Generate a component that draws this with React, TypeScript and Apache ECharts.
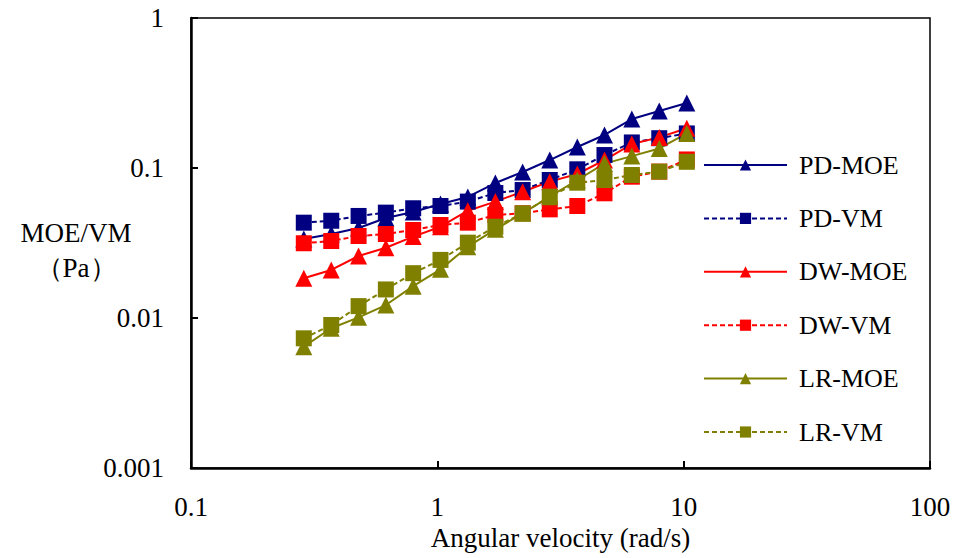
import React, { useEffect, useRef } from "react";
import * as echarts from "echarts";

// Angular velocity (rad/s)
const omega = [0.287, 0.371, 0.479, 0.618, 0.798, 1.03, 1.33, 1.72, 2.22, 2.86, 3.70, 4.77, 6.16, 7.96, 10.3];

const pdMOE = [0.0336, 0.0363, 0.0398, 0.0464, 0.0509, 0.0575, 0.0641, 0.0794, 0.094, 0.113, 0.138, 0.166, 0.212, 0.240, 0.271];
const pdVM = [0.0432, 0.0445, 0.0479, 0.0504, 0.0539, 0.0558, 0.0597, 0.0681, 0.0713, 0.0832, 0.098, 0.122, 0.148, 0.158, 0.170];
const dwMOE = [0.0184, 0.0209, 0.0259, 0.0294, 0.0349, 0.0406, 0.0519, 0.0597, 0.0695, 0.0811, 0.0912, 0.113, 0.1445, 0.160, 0.184];
const dwVM = [0.0315, 0.0326, 0.0352, 0.0363, 0.0386, 0.0417, 0.0432, 0.0486, 0.0499, 0.053, 0.0558, 0.0678, 0.0875, 0.0946, 0.114];
const lrMOE = [0.00644, 0.00854, 0.0101, 0.0122, 0.0163, 0.0211, 0.0299, 0.039, 0.0499, 0.0644, 0.0832, 0.107, 0.120, 0.135, 0.170];
const lrVM = [0.00732, 0.00898, 0.0120, 0.0155, 0.0199, 0.0244, 0.0318, 0.0406, 0.0499, 0.0644, 0.0798, 0.0832, 0.0898, 0.0946, 0.110];

const seriesNames = ["PD-MOE", "PD-VM", "DW-MOE", "DW-VM", "LR-MOE", "LR-VM"];
const xTickLabels = ["0.1", "1", "10", "100"];
const yTickLabels = ["0.001", "0.01", "0.1", "1"];

const FONT = "Liberation Serif";

function pickLabel(labels: string[], v: number) {
  for (const l of labels) {
    if (Math.abs(Math.log10(Number(l)) - Math.log10(v)) < 1e-6) return l;
  }
  return "";
}

export default function App() {
  const ref = useRef<HTMLDivElement>(null);
  useEffect(() => {
    if (!ref.current) return;
    const chart = echarts.init(ref.current, undefined, { renderer: "svg" });
    const navy = "#000080";
    const red = "#FF0000";
    const olive = "#808000";
    const mk = (name: string, ys: number[], color: string, dashed: boolean, symbol: string) => ({
      name,
      type: "line",
      data: omega.map((x, i) => [x, ys[i]]),
      symbol,
      symbolSize: symbol === "triangle" ? 17 : 16,
      showSymbol: true,
      lineStyle: { color, width: 2, type: dashed ? [5, 3] : "solid" },
      itemStyle: { color },
      emphasis: { disabled: true },
    });
    chart.setOption({
      animation: false,
      backgroundColor: "#fff",
      textStyle: { fontFamily: FONT },
      grid: {
        left: 191,
        right: 31,
        top: 18,
        bottom: 90,
        show: true,
        borderColor: "#000",
        borderWidth: 1.5,
        backgroundColor: "transparent",
      },
      legend: {
        orient: "vertical",
        left: 698,
        top: 147,
        itemWidth: 83,
        itemHeight: 14,
        itemGap: 27.4,
        data: seriesNames,
        textStyle: {
          fontFamily: FONT,
          fontSize: 26,
          lineHeight: 26,
          color: "#000",
          padding: [0, 0, 0, 7],
        },
      },
      xAxis: {
        type: "log",
        logBase: 10,
        min: 0.1,
        max: 100,
        name: "Angular velocity (rad/s)",
        nameLocation: "middle",
        nameGap: 53,
        nameTextStyle: { fontFamily: FONT, fontSize: 27, color: "#000" },
        axisLine: { lineStyle: { color: "#000", width: 2.5 } },
        axisTick: { inside: true, length: 7, lineStyle: { color: "#000", width: 2 } },
        minorTick: { show: false },
        splitLine: { show: false },
        axisLabel: {
          margin: 25,
          fontFamily: FONT,
          fontSize: 27,
          color: "#000",
          formatter: (v: number) => pickLabel(xTickLabels, v),
        },
      },
      yAxis: {
        type: "log",
        logBase: 10,
        min: 0.001,
        max: 1,
        axisLine: { lineStyle: { color: "#000", width: 2.5 } },
        axisTick: { inside: true, length: 7, lineStyle: { color: "#000", width: 2 } },
        minorTick: { show: false },
        splitLine: { show: false },
        axisLabel: {
          margin: 27,
          fontFamily: FONT,
          fontSize: 27,
          color: "#000",
          padding: [10, 0, 0, 0],
          formatter: (v: number) => pickLabel(yTickLabels, v),
        },
      },
      graphic: [
        {
          type: "text",
          x: 76,
          y: 250,
          style: {
            text: "MOE/VM\n（Pa）",
            fontFamily: FONT,
            fontSize: 27,
            lineHeight: 35,
            fill: "#000",
            textAlign: "center",
            textVerticalAlign: "middle",
          },
        },
      ],
      series: [
        mk(seriesNames[0], pdMOE, navy, false, "triangle"),
        mk(seriesNames[1], pdVM, navy, true, "rect"),
        mk(seriesNames[2], dwMOE, red, false, "triangle"),
        mk(seriesNames[3], dwVM, red, true, "rect"),
        mk(seriesNames[4], lrMOE, olive, false, "triangle"),
        mk(seriesNames[5], lrVM, olive, true, "rect"),
      ],
    });
    return () => chart.dispose();
  }, []);
  return <div ref={ref} style={{ width: 961, height: 558, position: "absolute", left: 0, top: 0 }} />;
}
